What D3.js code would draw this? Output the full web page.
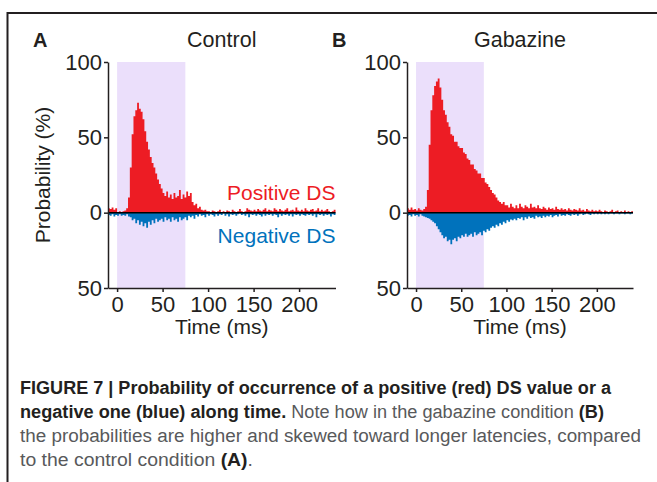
<!DOCTYPE html>
<html>
<head>
<meta charset="utf-8">
<script src="https://cdn.jsdelivr.net/npm/d3@7"></script>
<style>
body{margin:0;background:#fff;}
svg text{font-family:"Liberation Sans",Arial,Helvetica,sans-serif;fill:#231f20;}
.caption text{font-family:"Liberation Sans Narrow","Liberation Sans",Arial,sans-serif;font-size:18px;}
</style>
</head>
<body>
<div id="chart"></div>
<script>
// bins of 2 ms, first bin starts at -10 ms
const binStart = -10, binWidth = 2, timeEnd = 240;
const xTicks = [0, 50, 100, 150, 200];
const yTicks = [100, 50, 0, -50];
const shadeWindow = [0, 75];
const panelLabels = ['A', 'B'];
const panelTitles = ['Control', 'Gabazine'];
const seriesNames = ['Positive DS', 'Negative DS'];

// probability (%) of positive / negative DS per bin
const controlPos = [
    3, 2.5, 3.5, 2, 3, 0.5, 1, 0.5, 1, 1.5,
    3, 10, 30, 52, 64, 68, 73, 69, 67, 62,
    54, 47, 42, 37, 33, 30, 26, 22, 19, 16,
    13, 11, 14, 10, 12, 9, 13, 10, 11, 15,
    9, 12, 10, 14, 11, 13, 7, 5, 6, 3,
    4, 2, 1.5, 2, 1, 1, 0.5, 1.5, 1, 0.5,
    1, 2, 0.5, 1, 0.5, 1.5, 1, 0.5, 2, 1,
    0.5, 1, 2.5, 1, 0.5, 1, 3, 2, 1.5, 1,
    2, 1, 2.5, 1.5, 1, 2, 3, 1, 2, 1.5,
    1, 3, 2, 1, 2.5, 1.5, 1, 2, 3, 1,
    1.5, 2, 1, 3.5, 1.5, 1, 2, 1, 3, 1.5,
    1, 2, 2.5, 1, 1.5, 3, 1, 2, 1, 1.5,
    2.5, 1, 0.5, 1, 2
];
const controlNeg = [
    1.5, 2, 1, 2.5, 1.5, 2, 1, 2, 1.5, 2,
    1, 2.5, 3, 5, 4, 7, 5, 8, 6, 9,
    7, 10, 6, 8, 5, 7, 4, 6, 5, 4,
    6, 3, 5, 4, 6, 3, 5, 4, 6, 3,
    5, 4, 3, 5, 2, 3, 2, 4, 1.5, 2.5,
    1, 2, 1.5, 3, 1, 2, 1, 1.5, 2.5, 1,
    2, 1, 1.5, 0.5, 2, 1, 2.5, 1, 1.5, 1,
    2, 1, 0.5, 1.5, 1, 2, 1, 3, 1, 1.5,
    1, 2, 1, 1.5, 2.5, 1, 2, 1, 1.5, 1,
    2, 1, 1.5, 3, 1, 2, 1, 1.5, 1, 2,
    1, 2.5, 1, 1.5, 1, 2, 1, 1.5, 2, 1,
    1.5, 1, 2, 1, 3, 1, 1.5, 1, 2, 1,
    1.5, 1, 2.5, 1, 1.5
];
const gabazinePos = [
    3, 2, 3.5, 2, 2.5, 1.5, 3, 2, 1.5, 2.5,
    4, 15, 45, 68, 78, 84, 87, 89, 83, 75,
    68, 65, 60, 57, 52, 51, 47, 47, 44, 43,
    43, 40, 39, 36, 35, 32, 32, 29, 28, 26,
    26, 23, 23, 20, 19, 17, 15, 13, 12, 10,
    8, 7, 6, 7, 5, 5, 3.5, 6, 4, 3,
    5, 3, 6, 4, 3, 5, 4, 3, 6, 3.5,
    4, 3, 5, 3, 2.5, 4, 3, 2, 3.5, 2.5,
    3, 2, 4, 2.5, 2, 3, 2, 2.5, 1.5, 3,
    2, 1.5, 2.5, 2, 1.5, 3, 1.5, 2, 1, 2.5,
    1.5, 1, 2, 1, 1.5, 1, 2, 1, 0.5, 1.5,
    1, 0.5, 1, 2, 0.5, 1, 1.5, 0.5, 1, 0.5,
    1.5, 0.5, 1, 0.5, 1
];
const gabazineNeg = [
    2, 1.5, 2.5, 1, 2, 1.5, 2.5, 1, 2, 2.5,
    3, 3.5, 4, 5, 6, 7, 9, 11, 13, 15,
    17, 16, 19, 18, 21, 18, 17, 19, 16, 17,
    15, 16, 14, 16, 15, 14, 16, 13, 15, 14,
    13, 15, 12, 13, 11, 12, 10, 9, 10, 8,
    9, 7, 8, 6, 7, 5, 6, 4.5, 5, 4,
    5, 3.5, 4, 3, 5, 3, 4, 2.5, 3.5, 3,
    4, 2, 3, 2.5, 3.5, 2, 3, 2, 2.5, 1.5,
    3, 2, 1.5, 2.5, 1, 2, 1.5, 2, 1, 1.5,
    2, 1, 1.5, 1, 2, 1, 0.5, 1.5, 1, 0.5,
    1, 1.5, 0.5, 1, 0.5, 1, 0.5, 1, 0.5, 1,
    0.5, 1, 0.5, 0.5, 1, 0.5, 0.5, 1, 0.5, 0.5,
    1, 0.5, 0.5, 1, 0.5
];

const captionLines = [
    [['FIGURE 7 | Probability of occurrence of a positive (red) DS value or a', true]],
    [['negative one (blue) along time.', true], [' Note how in the gabazine condition ', false], ['(B)', true]],
    [['the probabilities are higher and skewed toward longer latencies, compared', false]],
    [['to the control condition ', false], ['(A)', true], ['.', false]]
];

let sizes = {width: 657, height: 482, top: 62, bottom: 288};
let panels = [
    {left: 108, right: 335.5, pos: controlPos, neg: controlNeg},
    {left: 407, right: 633, pos: gabazinePos, neg: gabazineNeg}
];
let red = '#ed1c24', blue = '#0072bc', shade = '#ebdffb';

let svg = d3.select('#chart').append('svg')
    .attr('width', sizes.width)
    .attr('height', sizes.height);

// frame
svg.append('path')
    .attr('d', 'M7.5,482V13H657')
    .attr('fill', 'none')
    .attr('stroke', '#231f20')
    .attr('stroke-width', 2);

function toSteps(arr) {
    let pts = arr.map((v, i) => ({t: binStart + i * binWidth, v: v}));
    pts.push({t: timeEnd, v: arr[arr.length - 1]});
    return pts;
}

function drawPanel(i) {
    let p = panels[i];
    let x = d3.scaleLinear().domain([binStart, timeEnd]).range([p.left, p.right]);
    let y = d3.scaleLinear().domain([-50, 100]).range([sizes.bottom, sizes.top]);
    let g = svg.append('g').attr('class', 'panel');

    g.append('rect')
        .attr('x', x(shadeWindow[0]))
        .attr('width', x(shadeWindow[1]) - x(shadeWindow[0]))
        .attr('y', y(100))
        .attr('height', y(-50) - y(100))
        .attr('fill', shade);

    let areaPos = d3.area().curve(d3.curveStepAfter)
        .x(d => x(d.t)).y0(y(0)).y1(d => y(d.v));
    let areaNeg = d3.area().curve(d3.curveStepAfter)
        .x(d => x(d.t)).y0(y(0)).y1(d => y(-d.v));

    g.append('path').attr('d', areaPos(toSteps(p.pos))).attr('fill', red);
    g.append('path').attr('d', areaNeg(toSteps(p.neg))).attr('fill', blue);

    g.append('line')
        .attr('x1', x(binStart)).attr('x2', x(timeEnd))
        .attr('y1', y(0)).attr('y2', y(0))
        .attr('stroke', '#000').attr('stroke-width', 1.5);

    let ya = g.append('g')
        .attr('transform', 'translate(' + p.left + ',0)')
        .call(d3.axisLeft(y).tickValues(yTicks).tickFormat(d => Math.abs(d))
            .tickSize(4).tickSizeOuter(0).tickPadding(2));
    let xa = g.append('g')
        .attr('transform', 'translate(0,' + sizes.bottom + ')')
        .call(d3.axisBottom(x).tickValues(xTicks)
            .tickSize(4).tickSizeOuter(0).tickPadding(4));
    [ya, xa].forEach(a => {
        a.attr('font-size', null).attr('font-family', null);
        a.select('.domain').attr('stroke', '#231f20').attr('stroke-width', 1.5);
        a.selectAll('.tick line').attr('stroke', '#231f20').attr('stroke-width', 1.5);
        a.selectAll('text').style('font-size', '22px').attr('fill', '#231f20');
    });

    g.append('text')
        .attr('x', (x(binStart) + x(timeEnd)) / 2)
        .attr('y', 334)
        .attr('text-anchor', 'middle')
        .style('font-size', '21px')
        .text('Time (ms)');

    g.append('text')
        .attr('x', p.left - 75)
        .attr('y', 47)
        .style('font-size', '20px')
        .attr('font-weight', 'bold')
        .text(panelLabels[i]);

    g.append('text')
        .attr('x', x(115))
        .attr('y', 47)
        .attr('text-anchor', 'middle')
        .style('font-size', '21.5px')
        .text(panelTitles[i]);

    if (i === 0) {
        g.append('text')
            .attr('transform', 'translate(50,175) rotate(-90)')
            .attr('text-anchor', 'middle')
            .style('font-size', '21px')
            .text('Probability (%)');
        g.append('text')
            .attr('x', x(timeEnd)).attr('y', 200)
            .attr('text-anchor', 'end')
            .style('font-size', '21px')
            .style('fill', red)
            .text(seriesNames[0]);
        g.append('text')
            .attr('x', x(timeEnd)).attr('y', 243)
            .attr('text-anchor', 'end')
            .style('font-size', '21px')
            .style('fill', blue)
            .text(seriesNames[1]);
    }
}

panels.forEach((p, i) => drawPanel(i));

// caption
let cap = svg.append('g').attr('class', 'caption');
let lineEnds = [611, 604, 641, 253];
captionLines.forEach((parts, li) => {
    let t = cap.append('text')
        .attr('x', 20)
        .attr('y', 394 + li * 24)
        .attr('textLength', lineEnds[li] - 20)
        .attr('lengthAdjust', 'spacingAndGlyphs');
    parts.forEach(part => {
        t.append('tspan')
            .attr('font-weight', part[1] ? 'bold' : 'normal')
            .style('fill', part[1] ? '#231f20' : '#58595b')
            .text(part[0]);
    });
});
</script>
</body>
</html>
